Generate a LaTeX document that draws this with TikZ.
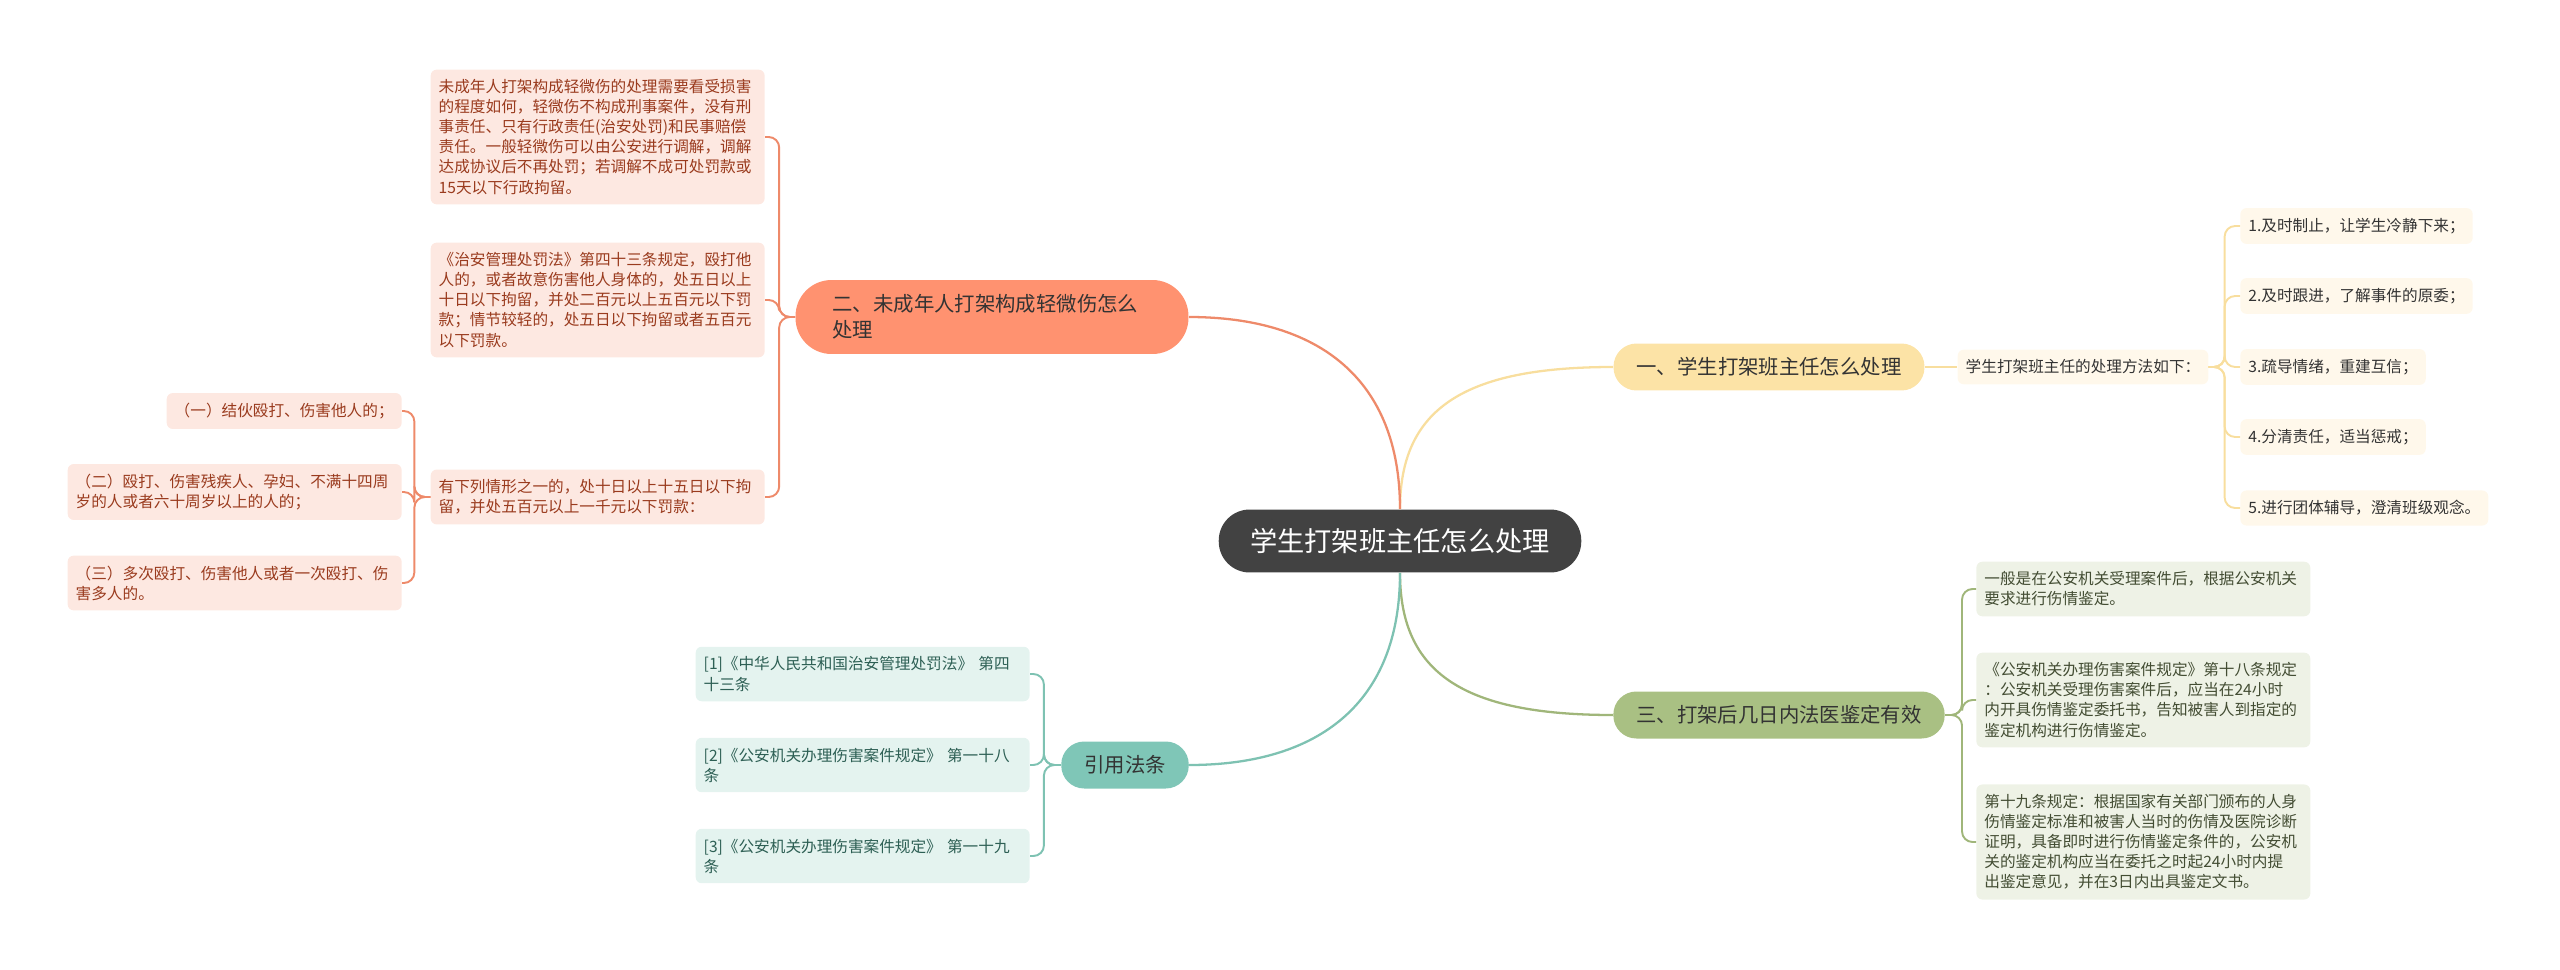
\documentclass[tikz,border=0pt]{standalone}
\usepackage{fontspec}
\setmainfont{Noto Sans CJK SC}
\usepackage{xcolor}
\usepackage{tikz}
\usetikzlibrary{positioning, calc}

\definecolor{rootfill}{HTML}{424242}
\definecolor{darktext}{HTML}{333333}
\definecolor{ylwfill}{HTML}{FCE3A6}
\definecolor{ylwleaf}{HTML}{FFF8EB}
\definecolor{ylwline}{HTML}{F8DE9E}
\definecolor{orgfill}{HTML}{FF9270}
\definecolor{orgleaf}{HTML}{FDE8E1}
\definecolor{orgline}{HTML}{EE8A6A}
\definecolor{orgtext}{HTML}{9A3B1E}
\definecolor{grnfill}{HTML}{A9C083}
\definecolor{grnleaf}{HTML}{EEF2E6}
\definecolor{grnline}{HTML}{A0B67A}
\definecolor{grntext}{HTML}{434D33}
\definecolor{tealfill}{HTML}{7FC6B7}
\definecolor{tealleaf}{HTML}{E4F3EF}
\definecolor{tealline}{HTML}{7EC2B2}
\definecolor{tealtext}{HTML}{2D5F54}

\begin{document}
\begin{tikzpicture}[x=0.02cm, y=-0.02cm,
    root/.style={rounded corners=0.62cm, fill=rootfill, text=white,
      inner xsep=0.63cm, minimum height=1.26cm,
      font=\fontsize{15.5}{18}\selectfont},
    branch/.style={rounded corners=0.46cm, inner xsep=0.46cm,
      minimum height=0.94cm, text=darktext,
      font=\fontsize{11.6}{14.7}\selectfont},
    leaf/.style={rounded corners=0.12cm, inner xsep=0.16cm, inner ysep=0.2cm,
      align=left, font=\fontsize{8.9}{11.4}\selectfont},
    wideleaf/.style={leaf, text width=6.36cm},
    trunk/.style={line width=1.3pt},
    twig/.style={line width=1.1pt, rounded corners=6pt}
]
\useasboundingbox (0,0) rectangle (2560,970);

\node[root] (root) at (1400,541) {学生打架班主任怎么处理};

\node[branch, fill=ylwfill] (b1) at (1769,367) {一、学生打架班主任怎么处理};
\node[branch, fill=orgfill, text width=6.38cm, align=left, inner xsep=0.74cm,
  minimum height=1.48cm, rounded corners=0.72cm] (b2) at (992,317)
  {二、未成年人打架构成轻微伤怎么\\处理};
\node[branch, fill=grnfill] (b3) at (1779,715) {三、打架后几日内法医鉴定有效};
\node[branch, fill=tealfill] (b4) at (1125,765) {引用法条};

\node[leaf, fill=ylwleaf, text=darktext] (y0) at (2083,367) {学生打架班主任的处理方法如下：};
\node[leaf, fill=ylwleaf, text=darktext, anchor=west] (y1) at (2240,226) {1.及时制止，让学生冷静下来；};
\node[leaf, fill=ylwleaf, text=darktext, anchor=west] (y2) at (2240,296) {2.及时跟进，了解事件的原委；};
\node[leaf, fill=ylwleaf, text=darktext, anchor=west] (y3) at (2240,367) {3.疏导情绪，重建互信；};
\node[leaf, fill=ylwleaf, text=darktext, anchor=west] (y4) at (2240,437) {4.分清责任，适当惩戒；};
\node[leaf, fill=ylwleaf, text=darktext, anchor=west] (y5) at (2240,508) {5.进行团体辅导，澄清班级观念。};

\node[wideleaf, fill=orgleaf, text=orgtext, anchor=east] (o1) at (765,137)
  {未成年人打架构成轻微伤的处理需要看受损害\\的程度如何，轻微伤不构成刑事案件，没有刑\\事责任、只有行政责任(治安处罚)和民事赔偿\\责任。一般轻微伤可以由公安进行调解，调解\\达成协议后不再处罚；若调解不成可处罚款或\\15天以下行政拘留。};
\node[wideleaf, fill=orgleaf, text=orgtext, anchor=east] (o2) at (765,300)
  {《治安管理处罚法》第四十三条规定，殴打他\\人的，或者故意伤害他人身体的，处五日以上\\十日以下拘留，并处二百元以上五百元以下罚\\款；情节较轻的，处五日以下拘留或者五百元\\以下罚款。};
\node[wideleaf, fill=orgleaf, text=orgtext, anchor=east] (o3) at (765,497)
  {有下列情形之一的，处十日以上十五日以下拘\\留，并处五百元以上一千元以下罚款：};
\node[leaf, fill=orgleaf, text=orgtext, anchor=east] (s1) at (402,411) {（一）结伙殴打、伤害他人的；};
\node[wideleaf, fill=orgleaf, text=orgtext, anchor=east] (s2) at (402,492)
  {（二）殴打、伤害残疾人、孕妇、不满十四周\\岁的人或者六十周岁以上的人的；};
\node[wideleaf, fill=orgleaf, text=orgtext, anchor=east] (s3) at (402,583)
  {（三）多次殴打、伤害他人或者一次殴打、伤\\害多人的。};

\node[wideleaf, fill=grnleaf, text=grntext, anchor=west] (g1) at (1976,589)
  {一般是在公安机关受理案件后，根据公安机关\\要求进行伤情鉴定。};
\node[wideleaf, fill=grnleaf, text=grntext, anchor=west] (g2) at (1976,700)
  {《公安机关办理伤害案件规定》第十八条规定\\：公安机关受理伤害案件后，应当在24小时\\内开具伤情鉴定委托书，告知被害人到指定的\\鉴定机构进行伤情鉴定。};
\node[wideleaf, fill=grnleaf, text=grntext, anchor=west] (g3) at (1976,842)
  {第十九条规定：根据国家有关部门颁布的人身\\伤情鉴定标准和被害人当时的伤情及医院诊断\\证明，具备即时进行伤情鉴定条件的，公安机\\关的鉴定机构应当在委托之时起24小时内提\\出鉴定意见，并在3日内出具鉴定文书。};

\node[wideleaf, fill=tealleaf, text=tealtext, anchor=east] (t1) at (1030,674)
  {[1]《中华人民共和国治安管理处罚法》 第四\\十三条};
\node[wideleaf, fill=tealleaf, text=tealtext, anchor=east] (t2) at (1030,765)
  {[2]《公安机关办理伤害案件规定》 第一十八\\条};
\node[wideleaf, fill=tealleaf, text=tealtext, anchor=east] (t3) at (1030,856)
  {[3]《公安机关办理伤害案件规定》 第一十九\\条};

\draw[trunk, draw=ylwline] (root.north) .. controls +(0,-100) and +(-150,0) .. (b1.west);
\draw[trunk, draw=orgline] (root.north) .. controls +(0,-130) and +(130,0) .. (b2.east);
\draw[trunk, draw=grnline] (root.south) .. controls +(0,100) and +(-150,0) .. (b3.west);
\draw[trunk, draw=tealline] (root.south) .. controls +(0,130) and +(130,0) .. (b4.east);

\draw[twig, draw=ylwline] (b1.east) -- (y0.west);
\foreach \n in {y1,y2,y3,y4,y5}
  \draw[twig, draw=ylwline] (y0.east) -- ++(16,0) |- (\n.west);
\foreach \n in {o1,o2,o3}
  \draw[twig, draw=orgline] (b2.west) -- ++(-16,0) |- (\n.east);
\foreach \n in {s1,s2,s3}
  \draw[twig, draw=orgline] (o3.west) -- ++(-16,0) |- (\n.east);
\foreach \n in {g1,g2,g3}
  \draw[twig, draw=grnline] (b3.east) -- ++(17,0) |- (\n.west);
\foreach \n in {t1,t2,t3}
  \draw[twig, draw=tealline] (b4.west) -- ++(-17,0) |- (\n.east);
\end{tikzpicture}
\end{document}
